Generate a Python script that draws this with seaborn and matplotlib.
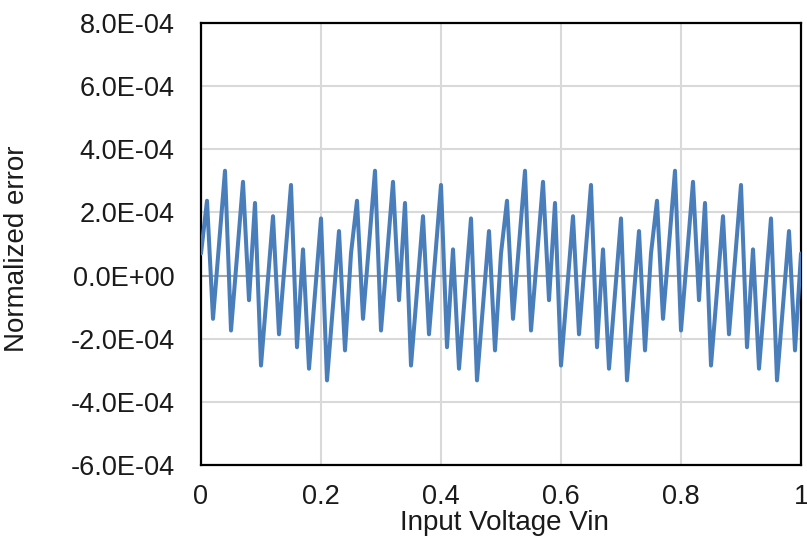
import numpy as np
import pandas as pd
import matplotlib
matplotlib.use("Agg")
import matplotlib.pyplot as plt
import seaborn as sns

# input voltage, step 0.01 from 0 to 1
vin = [round(i * 0.01, 2) for i in range(101)]

# normalized error in units of 1E-04
err_e4 = [
    0.70, 2.37, -1.37, 0.98, 3.32, -1.74, 0.61, 2.97, -0.78, 2.30,
    -2.85, -0.49, 1.88, -1.86, 0.50, 2.87, -2.27, 0.83, -2.95, -0.57,
    1.81, -3.32, -0.95, 1.41, -2.37,
    0.70, 2.37, -1.37, 0.98, 3.32, -1.74, 0.61, 2.97, -0.78, 2.30,
    -2.85, -0.49, 1.88, -1.86, 0.50, 2.87, -2.27, 0.83, -2.95, -0.57,
    1.81, -3.32, -0.95, 1.41, -2.37,
    0.70, 2.37, -1.37, 0.98, 3.32, -1.74, 0.61, 2.97, -0.78, 2.30,
    -2.85, -0.49, 1.88, -1.86, 0.50, 2.87, -2.27, 0.83, -2.95, -0.57,
    1.81, -3.32, -0.95, 1.41, -2.37,
    0.70, 2.37, -1.37, 0.98, 3.32, -1.74, 0.61, 2.97, -0.78, 2.30,
    -2.85, -0.49, 1.88, -1.86, 0.50, 2.87, -2.27, 0.83, -2.95, -0.57,
    1.81, -3.32, -0.95, 1.41, -2.37,
    0.70,
]

y_ticks = [-6e-4, -4e-4, -2e-4, 0, 2e-4, 4e-4, 6e-4, 8e-4]
y_labels = ["-6.0E-04", "-4.0E-04", "-2.0E-04", "0.0E+00",
            "2.0E-04", "4.0E-04", "6.0E-04", "8.0E-04"]
x_ticks = [0, 0.2, 0.4, 0.6, 0.8, 1]
x_labels = ["0", "0.2", "0.4", "0.6", "0.8", "1"]

df = pd.DataFrame({"vin": vin, "err": np.array(err_e4) * 1e-4})

sns.set_style("white")
plt.rcParams["font.family"] = ["Liberation Sans", "DejaVu Sans"]

fig = plt.figure(figsize=(8.07, 5.39), dpi=100)
ax = fig.add_axes([201 / 807, 1 - 465 / 539, 600 / 807, (465 - 23) / 539])

ax.grid(True, color="#d9d9d9", linewidth=1.5)
ax.set_axisbelow(True)
ax.axhline(0, color="#a6a6a6", linewidth=1.5, zorder=1)

sns.lineplot(data=df, x="vin", y="err", ax=ax, color="#4a7ebb",
             linewidth=2.9, zorder=3)

ax.set_xlim(0, 1)
ax.set_ylim(-6e-4, 8e-4)
ax.set_xticks(x_ticks)
ax.set_xticklabels(x_labels)
ax.set_yticks(y_ticks)
ax.set_yticklabels(y_labels)
ax.tick_params(axis="y", length=0, pad=19, labelsize=19.5, colors="#1a1a1a")
ax.tick_params(axis="x", length=0, pad=14, labelsize=19.5, colors="#1a1a1a")

for s in ax.spines.values():
    s.set_visible(True)
    s.set_color("black")
    s.set_linewidth(1.6)

ax.set_xlabel("Input Voltage Vin", fontsize=20, color="#1a1a1a")
ax.set_ylabel("Normalized error", fontsize=20, color="#1a1a1a")
ax.xaxis.set_label_coords(0.505, -0.102)
ax.yaxis.set_label_coords(-0.285, 0.49)

fig.savefig("out.png", dpi=100)
